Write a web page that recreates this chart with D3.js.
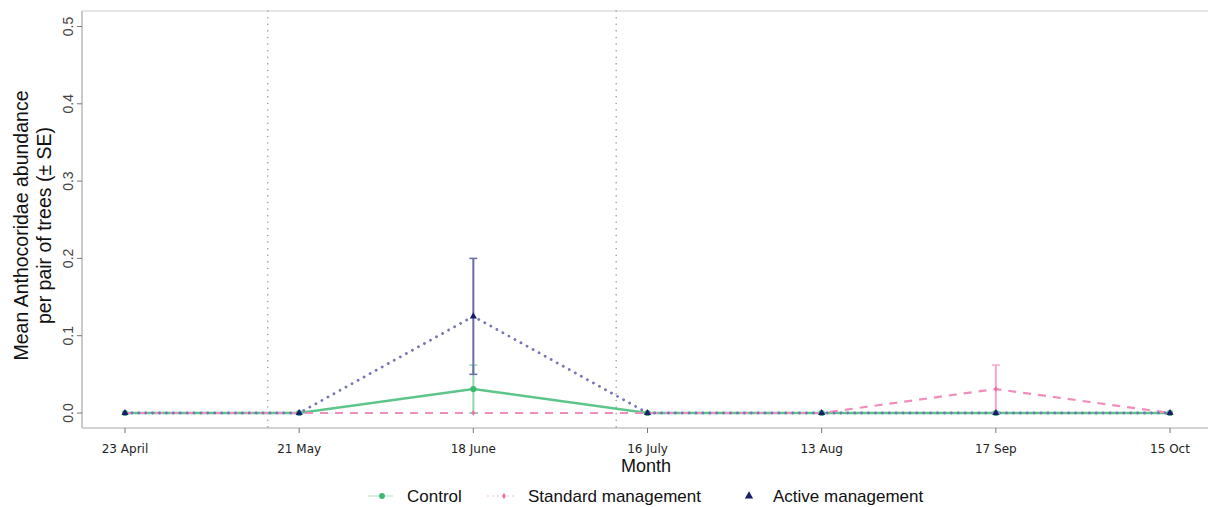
<!DOCTYPE html>
<html>
<head>
<meta charset="utf-8">
<script src="https://cdn.jsdelivr.net/npm/d3@7"></script>
<style>
  html, body { margin: 0; padding: 0; background: #fff; }
  svg { display: block; }
</style>
</head>
<body>
<svg id="chart" width="1208" height="507"></svg>
<script>
// Sampling dates (x categories)
const months = ["23 April", "21 May", "18 June", "16 July", "13 Aug", "17 Sep", "15 Oct"];

// Mean abundance per pair of trees, per treatment
const controlMean  = [0, 0, 0.031, 0, 0, 0, 0];
const controlSE    = [0, 0, 0.031, 0, 0, 0, 0];
const standardMean = [0, 0, 0, 0, 0, 0.031, 0];
const standardSE   = [0, 0, 0, 0, 0, 0.031, 0];
const activeMean   = [0, 0, 0.125, 0, 0, 0, 0];
const activeSE     = [0, 0, 0.075, 0, 0, 0, 0];

// Y ticks
const yTicks = [0, 0.1, 0.2, 0.3, 0.4, 0.5];

// Management interventions: placed between sampling dates (index + fraction of a step)
const interventions = [0.82, 2.82];

const svg = d3.select("#chart");

const panel = { left: 82, right: 1210, top: 11, bottom: 428 };

const x = d3.scalePoint().domain(months).range([125, 1170]);
const y = d3.scaleLinear().domain([0, 0.5]).range([413, 26.5]);
const step = x.step();

const series = [
  { name: "Control", mean: controlMean, se: controlSE, color: "#5cc68a", dash: null, width: 2.4, errColor: "#8fd9ad" },
  { name: "Standard management", mean: standardMean, se: standardSE, color: "#f08dbd", dash: "8,7", width: 2.2, errColor: "#f4a6cb" },
  { name: "Active management", mean: activeMean, se: activeSE, color: "#7676b6", dash: "0.1,6.8", width: 2.8, errColor: "#6b6ba6" }
];

// Panel frame
svg.append("line").attr("x1", panel.left).attr("x2", panel.right)
  .attr("y1", panel.top).attr("y2", panel.top)
  .attr("stroke", "#dedede").attr("stroke-width", 1.5);
svg.append("line").attr("x1", panel.left).attr("x2", panel.left)
  .attr("y1", panel.top).attr("y2", panel.bottom)
  .attr("stroke", "#b8b8b8").attr("stroke-width", 1.5);
svg.append("line").attr("x1", panel.left).attr("x2", panel.right)
  .attr("y1", panel.bottom).attr("y2", panel.bottom)
  .attr("stroke", "#c4c4c4").attr("stroke-width", 1.5);

// Intervention markers
svg.selectAll(".vline").data(interventions).enter().append("line")
  .attr("x1", d => x(months[0]) + d * step)
  .attr("x2", d => x(months[0]) + d * step)
  .attr("y1", panel.top).attr("y2", panel.bottom)
  .attr("stroke", "#8a8a8a").attr("stroke-width", 1.4)
  .attr("stroke-dasharray", "0.1,6.5").attr("stroke-linecap", "round");

// Y axis ticks and labels
const yAxis = svg.append("g");
yAxis.selectAll("line").data(yTicks).enter().append("line")
  .attr("x1", panel.left - 5).attr("x2", panel.left)
  .attr("y1", d => y(d)).attr("y2", d => y(d))
  .attr("stroke", "#777").attr("stroke-width", 1);
yAxis.selectAll("text").data(yTicks).enter().append("text")
  .attr("transform", d => `translate(${panel.left - 9},${y(d)}) rotate(-90)`)
  .attr("text-anchor", "middle")
  .attr("font-family", "Liberation Sans, Arial, sans-serif")
  .attr("font-size", 14).attr("fill", "#444")
  .text(d => d3.format(".1f")(d));

// X axis ticks and labels
const xAxis = svg.append("g");
xAxis.selectAll("line").data(months).enter().append("line")
  .attr("x1", d => x(d)).attr("x2", d => x(d))
  .attr("y1", panel.bottom).attr("y2", panel.bottom + 5)
  .attr("stroke", "#777").attr("stroke-width", 1);
xAxis.selectAll("text").data(months).enter().append("text")
  .attr("x", d => x(d)).attr("y", 453)
  .attr("text-anchor", "middle")
  .attr("font-family", "DejaVu Sans, sans-serif")
  .attr("font-size", 12).attr("fill", "#222")
  .text(d => d);

// Axis titles
svg.append("text")
  .attr("x", 646).attr("y", 472).attr("text-anchor", "middle")
  .attr("font-family", "Liberation Sans, Arial, sans-serif")
  .attr("font-size", 18).attr("fill", "#111").text("Month");

const yTitle = svg.append("text")
  .attr("transform", `translate(0,${(panel.top + panel.bottom) / 2 + 6}) rotate(-90)`)
  .attr("text-anchor", "middle")
  .attr("font-family", "Liberation Sans, Arial, sans-serif")
  .attr("font-size", 19.5).attr("fill", "#111");
yTitle.append("tspan").attr("x", 0).attr("y", 28).text("Mean Anthocoridae abundance");
yTitle.append("tspan").attr("x", 0).attr("y", 51).text("per pair of trees (\u00b1 SE)");

// Lines
const line = d3.line().x((d, i) => x(months[i])).y(d => y(d));
const plot = svg.append("g");

series.forEach(s => {
  plot.append("path")
    .datum(s.mean)
    .attr("d", line)
    .attr("fill", "none")
    .attr("stroke", s.color)
    .attr("stroke-width", s.width)
    .attr("stroke-linecap", s.dash && s.dash.startsWith("0.1") ? "round" : "butt")
    .attr("stroke-dasharray", s.dash);
});

// Error bars
series.forEach(s => {
  const eb = s.mean.map((m, i) => ({ m, se: s.se[i], i })).filter(d => d.se > 0);
  const g = plot.append("g");
  g.selectAll(".bar").data(eb).enter().append("line")
    .attr("x1", d => x(months[d.i])).attr("x2", d => x(months[d.i]))
    .attr("y1", d => y(d.m - d.se)).attr("y2", d => y(d.m + d.se))
    .attr("stroke", s.errColor).attr("stroke-width", 2);
  ["lo", "hi"].forEach(k => {
    g.selectAll(".cap" + k).data(eb).enter().append("line")
      .attr("x1", d => x(months[d.i]) - 4).attr("x2", d => x(months[d.i]) + 4)
      .attr("y1", d => y(k === "lo" ? d.m - d.se : d.m + d.se))
      .attr("y2", d => y(k === "lo" ? d.m - d.se : d.m + d.se))
      .attr("stroke", s.errColor).attr("stroke-width", 1.5);
  });
});

// Point markers
const markerShapes = [
  d3.symbol().type(d3.symbolCircle).size(30),
  d3.symbol().type(d3.symbolDiamond).size(10),
  d3.symbol().type(d3.symbolTriangle).size(22)
];
const markerFill = ["#3db873", "#ec6fa8", "#1b1b70"];

series.forEach((s, k) => {
  plot.append("g").selectAll("path").data(s.mean).enter().append("path")
    .attr("transform", (d, i) => `translate(${x(months[i])},${y(d)})`)
    .attr("d", markerShapes[k]())
    .attr("fill", markerFill[k]);
});

// Legend
const legend = svg.append("g").attr("font-family", "Liberation Sans, Arial, sans-serif")
  .attr("font-size", 17).attr("fill", "#111");
const legendItems = [
  { x0: 368, x1: 393, sx: 382, tx: 407 },
  { x0: 487, x1: 517, sx: 504, tx: 528 },
  { x0: 0, x1: 0, sx: 749, tx: 773 }
];
const legendShapes = [
  d3.symbol().type(d3.symbolCircle).size(26),
  d3.symbol().type(d3.symbolDiamond).size(12),
  d3.symbol().type(d3.symbolTriangle).size(30)
];
series.forEach((s, k) => {
  const it = legendItems[k];
  if (k === 0) {
    legend.append("line").attr("x1", it.x0).attr("x2", it.x1).attr("y1", 496).attr("y2", 496)
      .attr("stroke", "#c9ecd6").attr("stroke-width", 1.5);
  } else if (k === 1) {
    legend.append("line").attr("x1", it.x0).attr("x2", it.x1).attr("y1", 496).attr("y2", 496)
      .attr("stroke", "#f8d3e4").attr("stroke-width", 1.5).attr("stroke-dasharray", "2,3");
  }
  legend.append("path")
    .attr("transform", `translate(${it.sx},496)`)
    .attr("d", legendShapes[k]())
    .attr("fill", markerFill[k]);
  legend.append("text").attr("x", it.tx).attr("y", 502).text(s.name);
});
</script>
</body>
</html>
